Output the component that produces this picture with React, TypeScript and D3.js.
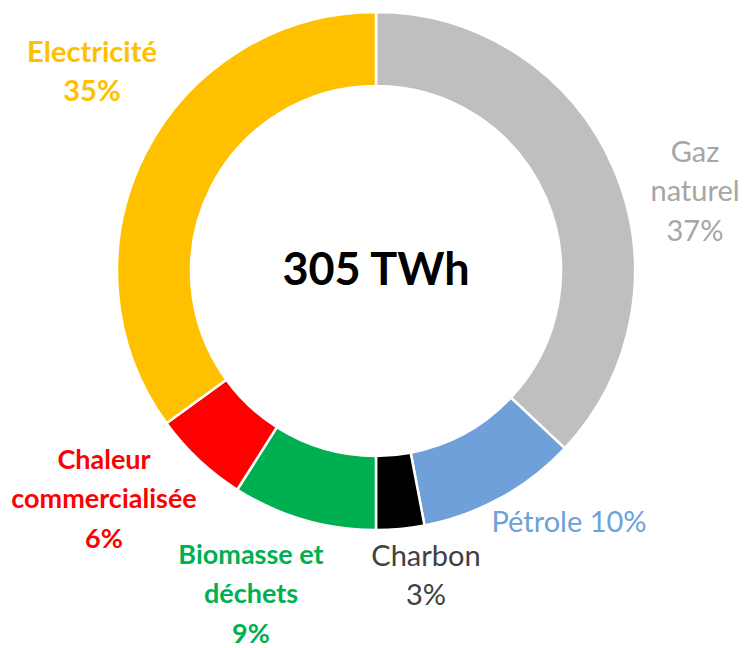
import React, { useEffect, useRef } from 'react';
import * as d3 from 'd3';

// energy mix, share of 305 TWh (clockwise from 12 o'clock)
const categories = ['Gaz naturel', 'Pétrole', 'Charbon', 'Biomasse et déchets', 'Chaleur commercialisée', 'Electricité'];
const shares = [37, 10, 3, 9, 6, 35];
const sliceColors = ['#BFBFBF', '#6FA0DA', '#000000', '#00B050', '#FF0000', '#FFC000'];
const textColors = ['#A6A6A6', '#6FA0DA', '#404040', '#00B050', '#FF0000', '#FFC000'];
const labelLines = [
  ['Gaz', 'naturel', '37%'],
  ['Pétrole 10%'],
  ['Charbon', '3%'],
  ['Biomasse et', 'déchets', '9%'],
  ['Chaleur', 'commercialisée', '6%'],
  ['Electricité', '35%'],
];
const labelBold = [false, false, false, true, true, true];
const labelSize = [29, 29, 29, 27, 27, 29];
const total = '305 TWh';

// label placement (centre of first line), layout only
const labelPos: [number, number][] = [
  [695, 150], [569, 520], [426, 554], [251, 553], [104, 458], [92, 50],
];

const App = () => {
  const ref = useRef<SVGSVGElement>(null);

  useEffect(() => {
    const svg = d3.select(ref.current);
    svg.selectAll('*').remove();

    const width = 750;
    const height = 648;
    const cx = 376;
    const cy = 271;
    const outer = 259;
    const inner = 185;

    svg.attr('width', width).attr('height', height);

    const pie = d3.pie<number>().sort(null).startAngle(0).endAngle(2 * Math.PI);
    const arc = d3.arc<d3.PieArcDatum<number>>().innerRadius(inner).outerRadius(outer);

    const g = svg.append('g').attr('transform', `translate(${cx},${cy})`);

    g.selectAll('path')
      .data(pie(shares))
      .enter()
      .append('path')
      .attr('d', arc)
      .attr('fill', (d, i) => sliceColors[i])
      .attr('stroke', '#fff')
      .attr('stroke-width', 2.5);

    // centre total
    svg.append('text')
      .attr('x', cx)
      .attr('y', cy - 3)
      .attr('text-anchor', 'middle')
      .attr('dominant-baseline', 'central')
      .attr('font-family', 'Lato, "Open Sans", sans-serif')
      .attr('font-weight', 'bold')
      .attr('font-size', 45)
      .attr('fill', '#000')
      .text(total);

    // labels
    labelLines.forEach((lines, i) => {
      const t = svg.append('text')
        .attr('text-anchor', 'middle')
        .attr('font-family', 'Lato, "Open Sans", sans-serif')
        .attr('font-size', labelSize[i])
        .attr('font-weight', labelBold[i] ? 'bold' : 'normal')
        .attr('fill', textColors[i]);
      lines.forEach((line, j) => {
        t.append('tspan')
          .attr('x', labelPos[i][0])
          .attr('y', labelPos[i][1] + j * 39.5)
          .attr('dominant-baseline', 'central')
          .text(line);
      });
    });
  }, []);

  return <svg ref={ref} style={{ position: 'absolute', left: 0, top: 0 }} />;
};

export default App;
